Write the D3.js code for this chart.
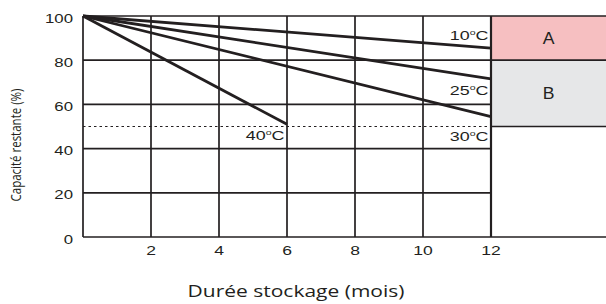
<!DOCTYPE html>
<html>
<head>
<meta charset="utf-8">
<script src="https://cdn.jsdelivr.net/npm/d3@7"></script>
<style>
  body { margin: 0; background: #fff; }
  text { font-family: "Liberation Sans", Arial, sans-serif; fill: #231f20; }
</style>
</head>
<body>
<div id="chart"></div>
<script>
// Data
var months = [0, 12];
var series = ["10°C", "25°C", "30°C", "40°C"];
var startValues = [100, 100, 100, 100];
var endMonths = [12, 12, 12, 6];
var endValues = [85.5, 71.5, 54.5, 51];
var xTicks = [2, 4, 6, 8, 10, 12];
var yTicks = [0, 20, 40, 60, 80, 100];
var zones = ["A", "B"];
var zoneTop = [100, 80];
var zoneBottom = [80, 50];
var limitValue = 50;

var svgWidth = 606;
var svgHeight = 304;
var margin = { top: 16, right: 0, bottom: 67, left: 83 };
var width = svgWidth - margin.left - margin.right;
var height = svgHeight - margin.top - margin.bottom;
var ink = "#231f20";

// the text in the picture is a bit wider than normal
function place(x, y, sx, sy) {
  return `translate(${x}, ${y}) scale(${sx}, ${sy || 1})`;
}

var svg = d3.select("#chart")
  .append("svg")
  .attr("width", svgWidth)
  .attr("height", svgHeight);

var chartGroup = svg.append("g")
  .attr("transform", `translate(${margin.left}, ${margin.top})`);

var xScale = d3.scaleLinear().domain([0, 12]).range([0, 408]);
var yScale = d3.scaleLinear().domain([0, 100]).range([height, 0]);
var xEnd = xScale(12);

// Zones A and B
chartGroup.selectAll(".zone")
  .data(zones)
  .enter()
  .append("rect")
  .attr("x", xEnd)
  .attr("y", (d, i) => yScale(zoneTop[i]))
  .attr("width", width - xEnd)
  .attr("height", (d, i) => yScale(zoneBottom[i]) - yScale(zoneTop[i]))
  .attr("fill", (d, i) => i === 0 ? "#f6bfc1" : "#e6e7e8");

chartGroup.selectAll(".zoneLabel")
  .data(zones)
  .enter()
  .append("text")
  .text(d => d)
  .attr("transform", (d, i) => place(xEnd + (width - xEnd) / 2, (yScale(zoneTop[i]) + yScale(zoneBottom[i])) / 2 + 6, 1.1))
  .attr("text-anchor", "middle")
  .attr("font-size", "16px");

// Horizontal grid lines
chartGroup.selectAll(".hgrid")
  .data(yTicks)
  .enter()
  .append("line")
  .attr("x1", 0)
  .attr("x2", d => (d === 0 || d === 100 || d === 80) ? width : xEnd)
  .attr("y1", d => yScale(d))
  .attr("y2", d => yScale(d))
  .attr("stroke", ink)
  .attr("stroke-width", 1.7);

// zone B bottom edge
chartGroup.append("line")
  .attr("x1", xEnd).attr("x2", width)
  .attr("y1", yScale(limitValue)).attr("y2", yScale(limitValue))
  .attr("stroke", ink)
  .attr("stroke-width", 1.7);

// Vertical grid lines
chartGroup.selectAll(".vgrid")
  .data([0].concat(xTicks))
  .enter()
  .append("line")
  .attr("x1", d => xScale(d))
  .attr("x2", d => xScale(d))
  .attr("y1", 0)
  .attr("y2", height)
  .attr("stroke", ink)
  .attr("stroke-width", d => d === 12 ? 2.2 : 1.7);

// Dotted 50% line
chartGroup.append("line")
  .attr("x1", 0).attr("x2", xEnd)
  .attr("y1", yScale(limitValue)).attr("y2", yScale(limitValue))
  .attr("stroke", ink)
  .attr("stroke-width", 1.2)
  .attr("stroke-dasharray", "2.5,3");

// Curves
var line = d3.line().x(d => xScale(d[0])).y(d => yScale(d[1]));
chartGroup.selectAll(".curve")
  .data(series)
  .enter()
  .append("path")
  .attr("d", (d, i) => line([[months[0], startValues[i]], [endMonths[i], endValues[i]]]))
  .attr("fill", "none")
  .attr("stroke", ink)
  .attr("stroke-width", 2.8);

// Curve labels
var labelY = [40, 95, 141, 140];
var labels = chartGroup.selectAll(".curveLabel")
  .data(series)
  .enter()
  .append("text")
  .attr("transform", (d, i) => place(xScale(endMonths[i]) - 2.5, labelY[i] - margin.top, 1.4))
  .attr("text-anchor", "end")
  .attr("font-size", "12.8px");
labels.append("tspan").text(d => d.slice(0, 2));
labels.append("tspan").text("o").attr("font-size", "7.5px").attr("dy", -5);
labels.append("tspan").text("C").attr("dy", 5);

// Tick labels
chartGroup.selectAll(".ytick")
  .data(yTicks)
  .enter()
  .append("text")
  .text(d => d)
  .attr("transform", d => place(-10, yScale(d) + 6.5, 1.4))
  .attr("text-anchor", "end")
  .attr("font-size", "12px");

chartGroup.selectAll(".xtick")
  .data(xTicks)
  .enter()
  .append("text")
  .text(d => d)
  .attr("transform", d => place(xScale(d), height + 18, 1.3))
  .attr("text-anchor", "middle")
  .attr("font-size", "13.5px");

// Axis titles
svg.append("text")
  .text("Durée stockage (mois)")
  .attr("transform", place(296, 297, 1.28))
  .attr("text-anchor", "middle")
  .style("font-family", "'Open Sans', sans-serif")
  .attr("font-size", "16.4px");

svg.append("text")
  .text("Capacité restante (%)")
  .attr("transform", "translate(21, 145) rotate(-90) scale(1, 1.25)")
  .attr("text-anchor", "middle")
  .style("font-family", "'Open Sans', sans-serif")
  .attr("font-size", "11.5px");
</script>
</body>
</html>
